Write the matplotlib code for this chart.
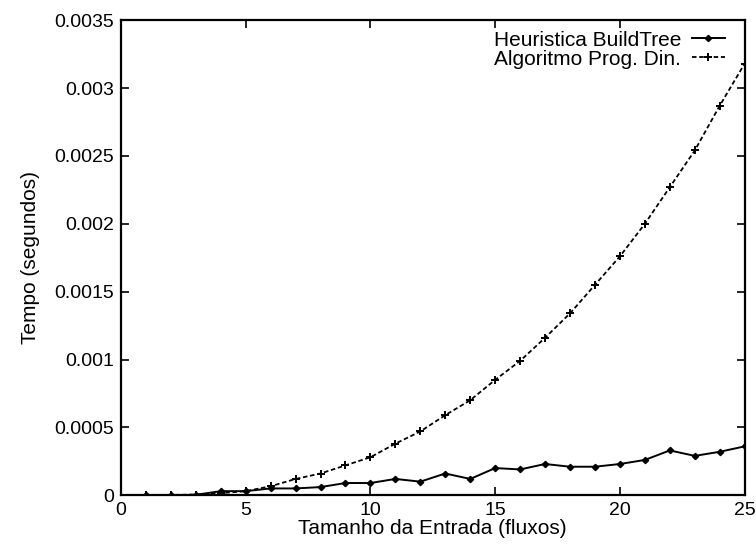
import matplotlib
matplotlib.use("Agg")
import matplotlib.pyplot as plt

plt.rcParams['font.family'] = ['Liberation Sans', 'DejaVu Sans']

# tamanho da entrada (fluxos)
fluxos = list(range(1, 26))

# Heuristica BuildTree
heuristica = [0.0, 0.0, 0.000003, 0.00003, 0.00003, 0.00005, 0.00005, 0.00006,
              0.00009, 0.00009, 0.00012, 0.0001, 0.00016, 0.00012, 0.0002,
              0.00019, 0.00023, 0.00021, 0.00021, 0.00023, 0.00026, 0.00033,
              0.00029, 0.00032, 0.00036]

# Algoritmo Prog. Din.
prog_din = [0.0, 0.000002, 0.000005, 0.000015, 0.00003, 0.000066, 0.00012,
            0.00016, 0.00022, 0.00028, 0.00038, 0.00047, 0.00059, 0.0007,
            0.00085, 0.00099, 0.00116, 0.00134, 0.00155, 0.00176, 0.002,
            0.00227, 0.00254, 0.00287, 0.00318]

xticks = [0, 5, 10, 15, 20, 25]
yticks = [0, 0.0005, 0.001, 0.0015, 0.002, 0.0025, 0.003, 0.0035]
ylabels = ['0', '0.0005', '0.001', '0.0015', '0.002', '0.0025', '0.003', '0.0035']

fig = plt.figure(figsize=(7.56, 5.46), dpi=100)
ax = fig.add_axes([0.160, 0.093, 0.825, 0.870])

ax.plot(fluxos, heuristica, color='black', lw=1.4, marker='D', markersize=3.2,
        label='Heuristica BuildTree')
ax.plot(fluxos, prog_din, color='black', lw=1.3, linestyle=(0, (2.5, 1.5)),
        marker='+', markersize=6, markeredgewidth=1.4,
        label='Algoritmo Prog. Din.')

ax.set_xlim(0, 25)
ax.set_ylim(0, 0.0035)
ax.set_xticks(xticks)
ax.set_yticks(yticks)
ax.set_yticklabels(ylabels)
ax.tick_params(direction='in', top=True, right=True, length=6, width=1.2,
               labelsize=14, pad=5)

for s in ax.spines.values():
    s.set_linewidth(1.6)

ax.set_xlabel('Tamanho da Entrada (fluxos)', fontsize=15, labelpad=0)
ax.set_ylabel('Tempo (segundos)', fontsize=15, labelpad=10)

ax.legend(loc='upper right', bbox_to_anchor=(0.985, 1.0), frameon=False,
          markerfirst=False, fontsize=15, handlelength=1.6,
          handletextpad=0.5, labelspacing=0.0, borderaxespad=0.1)

fig.savefig('out.png', dpi=100)
